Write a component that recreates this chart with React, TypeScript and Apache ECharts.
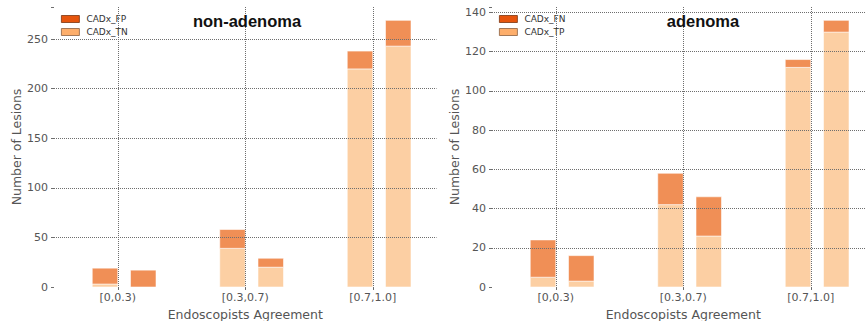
import React, { useEffect, useRef } from 'react';
import * as echarts from 'echarts';

const categories = ['[0,0.3)', '[0.3,0.7)', '[0.7,1.0]'];
// non-adenoma panel: first and second bar of every category
const nonAdenomaTnA = [3, 39, 220];
const nonAdenomaFpA = [16, 19, 18];
const nonAdenomaTnB = [0, 20, 243];
const nonAdenomaFpB = [17, 9, 26];
// adenoma panel
const adenomaTpA = [5, 42, 112];
const adenomaFnA = [19, 16, 4];
const adenomaTpB = [3, 26, 130];
const adenomaFnB = [13, 20, 6];

const panelTitles = ['non-adenoma', 'adenoma'];
const yAxisTitle = 'Number of Lesions';
const xAxisTitle = 'Endoscopists Agreement';
const yIntervals = [50, 20];

const FONT = '"DejaVu Sans", sans-serif';
const LOWER_COLOR = '#FCCFA3';
const UPPER_COLOR = '#F08F56';
const LEGEND_UPPER = '#E6550D';
const LEGEND_LOWER = '#FDAE6B';
const GRID_COLOR = '#6e6e6e';
const TEXT_COLOR = '#555555';

function lowerItems(a: number[], b: number[]) {
  const out: number[][] = [];
  categories.forEach((_, i) => {
    out.push([i, 0, 0, a[i]]);
    out.push([i, 1, 0, b[i]]);
  });
  return out;
}
function upperItems(lowA: number[], upA: number[], lowB: number[], upB: number[]) {
  const out: number[][] = [];
  categories.forEach((_, i) => {
    out.push([i, 0, lowA[i], lowA[i] + upA[i]]);
    out.push([i, 1, lowB[i], lowB[i] + upB[i]]);
  });
  return out;
}

const renderItem = (color: string) => (params: any, api: any) => {
  const cat = api.value(0);
  const slot = api.value(1);
  const lo = api.value(2);
  const hi = api.value(3);
  const band = api.size([1, 0])[0];
  const p0 = api.coord([cat, lo]);
  const p1 = api.coord([cat, hi]);
  const w = band * 0.2;
  const x = p0[0] + (slot === 0 ? -w : w * 0.5);
  return {
    type: 'rect',
    shape: { x, y: p1[1], width: w, height: p0[1] - p1[1] },
    style: { fill: color, stroke: 'rgba(255,255,255,0.55)', lineWidth: 1 },
  };
};

export default function App() {
  const ref = useRef<HTMLDivElement>(null);
  useEffect(() => {
    if (!ref.current) return;
    const chart = echarts.init(ref.current, undefined, { renderer: 'svg' });
    const totals0 = categories.map((_, i) => Math.max(nonAdenomaTnA[i] + nonAdenomaFpA[i], nonAdenomaTnB[i] + nonAdenomaFpB[i]));
    const totals1 = categories.map((_, i) => Math.max(adenomaTpA[i] + adenomaFnA[i], adenomaTpB[i] + adenomaFnB[i]));
    const yMax = [Math.max(...totals0) * 1.05, Math.max(...totals1) * 1.05];
    const grids = [
      { left: 54, top: 7, width: 382.5, height: 280, containLabel: false, outerBoundsMode: 'none' },
      { left: 492, top: 7, width: 382.5, height: 280, containLabel: false, outerBoundsMode: 'none' },
    ];
    const xAxes = [0, 1].map((g) => ({
      gridIndex: g,
      type: 'category',
      data: categories,
      z: 10,
      axisLine: { show: false },
      axisTick: { show: true, alignWithLabel: true, length: 3, lineStyle: { color: GRID_COLOR } },
      axisLabel: { fontSize: 11, color: TEXT_COLOR, margin: 5, fontFamily: FONT },
      splitLine: { show: true, alignWithLabel: true, lineStyle: { type: [1, 1], color: GRID_COLOR, width: 1 } },
      name: xAxisTitle,
      nameLocation: 'middle',
      nameGap: 20,
      nameTextStyle: { fontSize: 12.5, color: TEXT_COLOR, fontFamily: FONT },
    }));
    const yAxes = [0, 1].map((g) => ({
      gridIndex: g,
      type: 'value',
      min: 0,
      max: yMax[g],
      interval: yIntervals[g],
      z: 10,
      axisLine: { show: false },
      axisTick: { show: true, length: 3, lineStyle: { color: GRID_COLOR } },
      axisLabel: {
        fontSize: 11,
        color: TEXT_COLOR,
        margin: 6,
        fontFamily: FONT,
        formatter: (v: number) => (Math.abs(v / yIntervals[g] - Math.round(v / yIntervals[g])) < 1e-9 ? String(v) : ''),
      },
      splitLine: { show: true, showMinLine: false, showMaxLine: false, lineStyle: { type: [1, 1], color: GRID_COLOR, width: 1 } },
      name: yAxisTitle,
      nameLocation: 'middle',
      nameGap: 30,
      nameTextStyle: { fontSize: 12.5, color: TEXT_COLOR, fontFamily: FONT },
    }));
    const mk = (name: string, g: number, data: number[][], color: string) => ({
      type: 'custom',
      name,
      xAxisIndex: g,
      yAxisIndex: g,
      data,
      encode: { x: 0, y: 3 },
      itemStyle: { color },
      renderItem: renderItem(color),
      z: 2,
    });
    const legendCommon = {
      orient: 'vertical',
      top: 14,
      padding: 0,
      itemWidth: 18,
      itemHeight: 7,
      itemGap: 3,
      icon: 'rect',
      selectedMode: false,
      textStyle: { fontSize: 9, color: '#333', fontFamily: FONT, lineHeight: 10, padding: [0, 0, 0, 2] },
    };
    const legendItem = (name: string, color: string, border: string) => ({
      name,
      itemStyle: { color, borderColor: border, borderWidth: 0.8 },
    });
    chart.setOption({
      animation: false,
      grid: grids,
      xAxis: xAxes,
      yAxis: yAxes,
      legend: [
        { ...legendCommon, left: 61, data: [legendItem('CADx_FP', LEGEND_UPPER, '#7a3510'), legendItem('CADx_TN', LEGEND_LOWER, '#8a6040')] },
        { ...legendCommon, left: 499, data: [legendItem('CADx_FN', LEGEND_UPPER, '#7a3510'), legendItem('CADx_TP', LEGEND_LOWER, '#8a6040')] },
      ],
      graphic: [
        { type: 'text', x: 247, y: 20.5, z: 20, style: { text: panelTitles[0], fontSize: 16.5, fontWeight: 'bold', fontFamily: '"Liberation Sans", Arial, sans-serif', fill: '#111', align: 'center', verticalAlign: 'middle' } },
        { type: 'text', x: 703, y: 20.5, z: 20, style: { text: panelTitles[1], fontSize: 16.5, fontWeight: 'bold', fontFamily: '"Liberation Sans", Arial, sans-serif', fill: '#111', align: 'center', verticalAlign: 'middle' } },
      ],
      series: [
        mk('CADx_TN', 0, lowerItems(nonAdenomaTnA, nonAdenomaTnB), LOWER_COLOR),
        mk('CADx_FP', 0, upperItems(nonAdenomaTnA, nonAdenomaFpA, nonAdenomaTnB, nonAdenomaFpB), UPPER_COLOR),
        mk('CADx_TP', 1, lowerItems(adenomaTpA, adenomaTpB), LOWER_COLOR),
        mk('CADx_FN', 1, upperItems(adenomaTpA, adenomaFnA, adenomaTpB, adenomaFnB), UPPER_COLOR),
      ],
    });
    return () => chart.dispose();
  }, []);
  return (
    <div style={{ position: 'fixed', left: 0, top: 0, width: 866, height: 321, overflow: 'hidden', background: '#fff' }}>
      <div ref={ref} style={{ position: 'absolute', left: 0, top: 0, width: 938, height: 321 }} />
    </div>
  );
}
